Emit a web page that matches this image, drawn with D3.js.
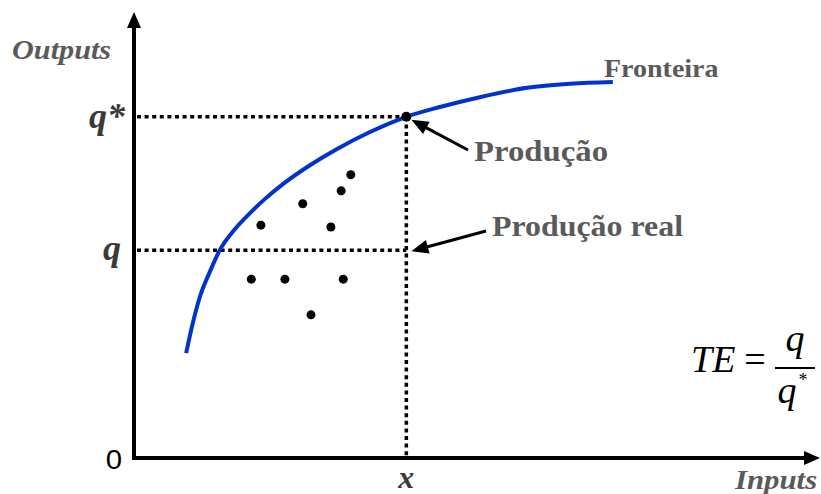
<!DOCTYPE html>
<html>
<head>
<meta charset="utf-8">
<script src="https://cdn.jsdelivr.net/npm/d3@7"></script>
<style>
  html, body { margin: 0; padding: 0; background: #fff; }
  svg { display: block; }
</style>
</head>
<body>
<svg id="chart" width="821" height="494"></svg>
<script>
// Efficiency frontier: inputs (x) vs outputs (y), arbitrary units
const frontierX = [0.76, 0.85, 0.96, 1.11, 1.25, 1.47, 1.69, 1.91, 2.17, 2.57, 2.96, 3.44, 3.97, 4.46, 5.04, 5.73, 6.36, 6.98];
const frontierY = [2.35, 2.98, 3.61, 4.19, 4.66, 5.13, 5.49, 5.81, 6.14, 6.57, 6.93, 7.31, 7.65, 7.87, 8.09, 8.30, 8.39, 8.43];

// Observed firms below the frontier
const firmX = [3.16, 3.02, 2.46, 1.85, 2.87, 1.71, 2.20, 3.05, 2.58];
const firmY = [6.35, 5.99, 5.70, 5.22, 5.18, 4.01, 4.01, 4.01, 3.21];

// Reference levels
const inputX = 3.97;   // x
const qStar = 7.65;    // q*
const qReal = 4.66;    // q

const svg = d3.select("#chart");

const x = d3.scaleLinear().domain([0, 10]).range([134, 820]);
const y = d3.scaleLinear().domain([0, 10]).range([458, 12]);

const serif = "Liberation Serif";
const labelGray = "#5a5a5a";
const symbolGray = "#3a3a3a";

// dotted guides
function guide(x1, y1, x2, y2) {
  svg.append("line").attr("x1", x1).attr("y1", y1).attr("x2", x2).attr("y2", y2)
    .attr("stroke", "#000").attr("stroke-width", 3.5).attr("stroke-dasharray", "4,3.6");
}
guide(x(0) + 3, y(qStar), x(inputX), y(qStar));
guide(x(0) + 3, y(qReal), x(inputX), y(qReal));
guide(x(inputX), y(qStar), x(inputX), y(0) - 2);

// axes with arrow heads
const axisW = 4;
svg.append("line")
  .attr("x1", x(0)).attr("y1", y(0) + axisW / 2)
  .attr("x2", x(0)).attr("y2", y(10) + 15)
  .attr("stroke", "#000").attr("stroke-width", axisW);
svg.append("path")
  .attr("d", `M${x(0)},${y(10)} L${x(0) - 7},${y(10) + 16} L${x(0) + 7},${y(10) + 16} Z`)
  .attr("fill", "#000");
svg.append("line")
  .attr("x1", x(0) - axisW / 2).attr("y1", y(0))
  .attr("x2", x(10) - 15).attr("y2", y(0))
  .attr("stroke", "#000").attr("stroke-width", axisW);
svg.append("path")
  .attr("d", `M${x(10)},${y(0)} L${x(10) - 16},${y(0) - 7} L${x(10) - 16},${y(0) + 7} Z`)
  .attr("fill", "#000");

// frontier curve
const frontier = frontierX.map((d, i) => [d, frontierY[i]]);
svg.append("path")
  .datum(frontier)
  .attr("d", d3.line().x(d => x(d[0])).y(d => y(d[1])).curve(d3.curveMonotoneX))
  .attr("fill", "none")
  .attr("stroke", "#0033cc")
  .attr("stroke-width", 4);

// firms
svg.selectAll("circle.firm")
  .data(firmX.map((d, i) => [d, firmY[i]]))
  .join("circle")
  .attr("class", "firm")
  .attr("cx", d => x(d[0])).attr("cy", d => y(d[1]))
  .attr("r", 4.5).attr("fill", "#000");

// efficient production point
svg.append("circle")
  .attr("cx", x(inputX)).attr("cy", y(qStar)).attr("r", 5).attr("fill", "#000");

// annotation arrows
function arrow(x1, y1, x2, y2) {
  const ang = Math.atan2(y2 - y1, x2 - x1);
  const len = 17, half = 7;
  const bx = x2 - len * Math.cos(ang), by = y2 - len * Math.sin(ang);
  svg.append("line")
    .attr("x1", x1).attr("y1", y1).attr("x2", bx + 3 * Math.cos(ang)).attr("y2", by + 3 * Math.sin(ang))
    .attr("stroke", "#000").attr("stroke-width", 3);
  const px = -Math.sin(ang) * half, py = Math.cos(ang) * half;
  svg.append("path")
    .attr("d", `M${x2},${y2} L${bx + px},${by + py} L${bx - px},${by - py} Z`)
    .attr("fill", "#000");
}
arrow(468, 150, x(inputX) + 5, y(qStar) + 3);
arrow(486, 231, x(inputX) + 5, y(qReal) + 1);

// text helper with horizontal stretch
function label(txt, tx, ty, opts) {
  const g = svg.append("g").attr("transform", `translate(${tx},${ty}) scale(${opts.sx || 1},1)`);
  return g.append("text")
    .attr("x", 0).attr("y", 0)
    .attr("font-family", opts.family || serif)
    .attr("font-size", opts.size)
    .attr("font-weight", opts.weight || "bold")
    .attr("font-style", opts.style || "normal")
    .attr("fill", opts.fill || labelGray)
    .attr("text-anchor", opts.anchor || "start")
    .text(txt);
}

label("Outputs", 12, 59, { size: 28, style: "italic", sx: 1.08 });
label("Inputs", 735, 489, { size: 28, style: "italic", sx: 1.1 });
label("Fronteira", 604, 77, { size: 25, sx: 1.12 });
label("Produção", 474, 161, { size: 29, sx: 1.13 });
label("Produção real", 492, 236, { size: 29, sx: 1.1 });

label("q*", 125, 128, { size: 36, style: "italic", fill: symbolGray, anchor: "end", sx: 1.0 });
label("q", 121, 260, { size: 36, style: "italic", fill: symbolGray, anchor: "end", sx: 1.0 });
label("x", x(inputX), 488, { size: 32, style: "italic", fill: symbolGray, anchor: "middle", sx: 1.0 });
label("0", 114, 469, { size: 28, weight: "normal", fill: "#000", anchor: "middle",
  family: "Liberation Sans", sx: 1.05 });

// technical efficiency formula
label("TE", 691, 372, { size: 38, weight: "normal", style: "italic", fill: "#000" });
label("=", 755, 372, { size: 38, weight: "normal", fill: "#000", anchor: "middle" });
svg.append("line").attr("x1", 775).attr("x2", 815).attr("y1", 368).attr("y2", 368)
  .attr("stroke", "#000").attr("stroke-width", 2);
label("q", 795, 351, { size: 38, weight: "normal", style: "italic", fill: "#000", anchor: "middle" });
label("q", 787, 403, { size: 38, weight: "normal", style: "italic", fill: "#000", anchor: "middle" });
label("*", 803, 386, { size: 18, weight: "normal", fill: "#000", anchor: "middle" });
</script>
</body>
</html>
